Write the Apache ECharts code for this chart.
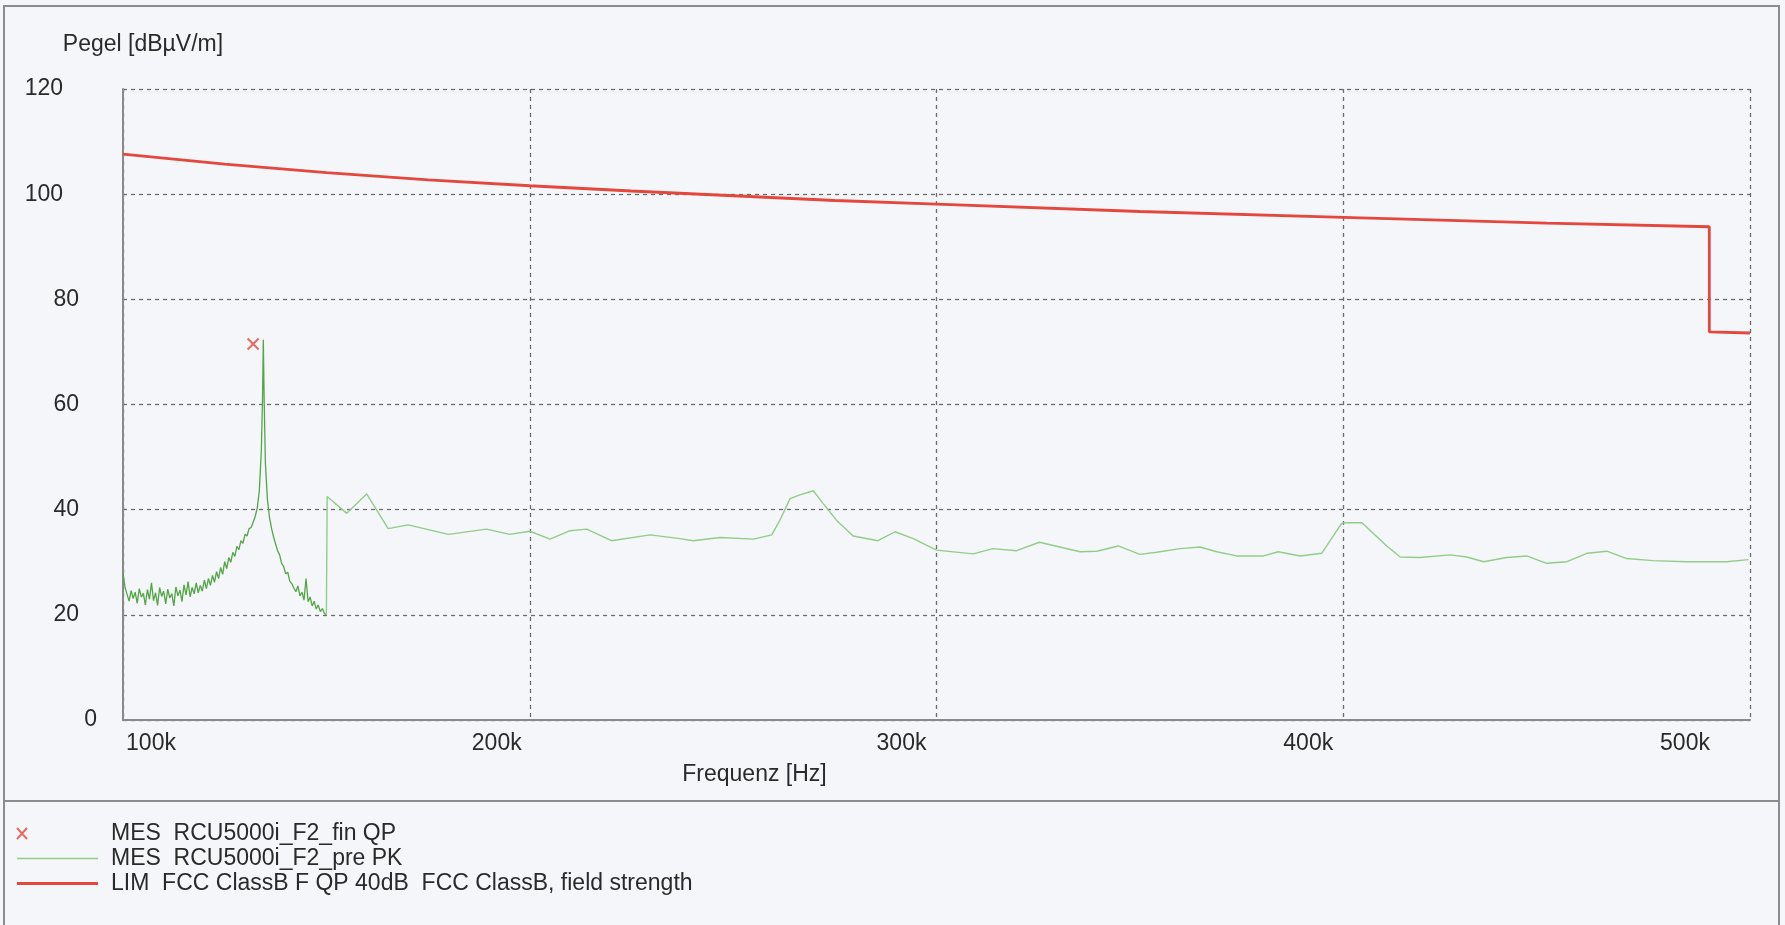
<!DOCTYPE html>
<html><head><meta charset="utf-8">
<script src="https://cdn.jsdelivr.net/npm/echarts@6/dist/echarts.min.js"></script>
<style>html,body{margin:0;padding:0;background:#f4f6fa}#c{width:1785px;height:925px}</style>
</head><body><div id="c"></div>
<script>
// ---- data (frequency in kHz, level in dBµV/m) ----
const xTickValues = [100, 200, 300, 400, 500];
const xTickLabels = ['100k', '200k', '300k', '400k', '500k'];

const seriesNames = ['MES  RCU5000i_F2_fin QP', 'MES  RCU5000i_F2_pre PK', 'LIM  FCC ClassB F QP 40dB  FCC ClassB, field strength'];

const finFreq = [132.0];
const finLevel = [71.5];

const preFreqA = [100.0,100.5,101.0,101.5,102.0,102.5,103.0,103.5,104.0,104.5,105.0,105.5,106.0,106.5,107.0,107.5,108.0,108.5,109.0,109.5,
  110.0,110.5,111.0,111.5,112.0,112.5,113.0,113.5,114.0,114.5,115.0,115.5,116.0,116.5,117.0,117.5,118.0,118.5,119.0,119.5,
  120.0,120.5,121.0,121.5,122.0,122.5,123.0,123.5,124.0,124.5,125.0,125.5,126.0,126.5,127.0,127.5,128.0,128.5,129.0,129.5,
  130.0,130.5,131.0,131.5,132.0,132.5,133.0,133.5,134.0,134.3,134.5,134.7,135.0,135.5,136.0,136.5,137.0,137.5,138.0,138.5,
  139.0,139.5,140.0,140.5,141.0,141.5,142.0,142.5,143.0,143.5,144.0,144.5,145.0,145.5,146.0,146.5,147.0,147.5,148.0,148.5,
  149.0,149.5,150.0];
const preLevelA = [28.0,25.2,23.9,22.6,24.6,23.1,24.3,22.2,25.0,23.4,24.1,21.9,24.8,23.0,26.1,22.7,24.2,21.8,25.2,23.5,
  24.5,22.1,24.9,23.2,24.0,21.7,25.3,23.6,24.7,22.5,25.7,23.8,26.3,23.4,25.2,24.0,26.1,24.2,25.6,24.5,
  26.6,25.0,26.9,25.6,27.5,26.2,28.2,26.9,29.0,27.7,30.1,28.8,30.9,30.0,31.9,31.1,33.0,32.4,34.1,33.6,
  35.3,35.0,36.4,36.6,37.6,38.7,40.3,43.5,51.0,61.0,72.3,61.0,49.0,42.0,38.6,36.5,34.9,33.5,32.2,31.4,
  29.8,29.2,27.8,28.1,26.4,25.9,25.1,24.4,25.5,23.6,24.3,22.8,26.9,22.5,23.4,21.7,22.6,21.1,21.9,20.6,
  21.2,20.3,19.9];

const preFreqB = [150.0,150.2,155.0,159.9,165.2,170.1,180.0,189.4,195.1,200.0,205.0,209.9,214.0,220.1,229.6,236.9,240.2,246.8,255.0,259.5,
  261.5,264.0,266.4,269.7,272.1,275.4,279.5,285.6,289.8,294.3,300.0,309.0,313.9,319.7,325.3,335.3,339.4,344.7,350.0,354.1,
  359.9,364.8,368.9,373.8,380.4,384.0,389.4,394.7,399.6,400.5,404.6,410.7,414.0,418.9,426.3,430.4,434.5,440.2,445.1,450.0,
  455.0,459.9,464.8,469.7,476.2,484.4,494.3,499.6];
const preLevelB = [20.0,42.5,39.3,43.0,36.4,37.1,35.3,36.3,35.3,35.9,34.4,36.0,36.3,34.1,35.2,34.5,34.1,34.7,34.4,35.2,
  38.0,42.1,42.8,43.6,41.2,38.0,35.0,34.1,35.8,34.5,32.3,31.6,32.6,32.2,33.8,32.0,32.1,33.1,31.5,31.9,
  32.6,32.9,32.0,31.2,31.2,32.0,31.2,31.7,37.4,37.5,37.5,33.1,31.0,30.9,31.4,31.0,30.1,30.9,31.2,29.8,
  30.1,31.7,32.1,30.7,30.3,30.1,30.1,30.5];

const limFreq = [100, 125, 150, 175, 200, 225, 250, 275, 300, 350, 400, 450, 490, 490, 500];
const limLevel = [107.6, 105.7, 104.1, 102.7, 101.6, 100.6, 99.7, 98.8, 98.1, 96.7, 95.6, 94.5, 93.8, 73.8, 73.6];

// ---- chart ----
const FONT = '"Liberation Sans", Arial, sans-serif';
const TXT = '#2a2a2a';
const RED = '#e4473d';
const GREEN_A = '#53a646';
const GREEN_B = '#93cc88';
const pairs = (xs, ys) => xs.map((x, i) => [x, ys[i]]);

const xRich = {};
const xPads = [[0,0,0,56],[0,66,0,0],[0,70,0,0],[0,70,0,0],[0,130,0,0]];
xPads.forEach((p, i) => { xRich['s' + i] = {padding: p, fontSize: 23, fontFamily: FONT, color: TXT}; });

const chart = echarts.init(document.getElementById('c'), null, {renderer: 'canvas'});
chart.setOption({
  animation: false,
  backgroundColor: '#f4f6fa',
  grid: {left: 123, right: 35, top: 89, bottom: 205, outerBoundsMode: 'none'},
  graphic: [
    {type: 'rect', shape: {x: 4, y: 6, width: 1775, height: 940}, style: {fill: 'none', stroke: '#8c8c8c', lineWidth: 2}, silent: true},
    {type: 'line', shape: {x1: 4, y1: 801, x2: 1779, y2: 801}, style: {stroke: '#8c8c8c', lineWidth: 2}, silent: true}
  ],
  xAxis: {
    type: 'value', min: 100, max: 500, interval: 100,
    name: 'Frequenz [Hz]', nameLocation: 'middle', nameGap: 43,
    nameTextStyle: {fontSize: 23, fontFamily: FONT, color: TXT, padding: [0, 364, 0, 0]},
    axisLine: {show: true, lineStyle: {color: '#8a8a8a', width: 2}},
    axisTick: {show: false},
    axisLabel: {
      margin: 12, fontSize: 23, fontFamily: FONT, color: TXT,
      formatter: v => { const i = xTickValues.indexOf(v); return i < 0 ? '' : '{s' + i + '|' + xTickLabels[i] + '}'; },
      rich: xRich
    },
    splitLine: {show: true, lineStyle: {color: '#6e6e6e', width: 1.3, type: [4, 4]}}
  },
  yAxis: {
    type: 'value', min: 0, max: 120, interval: 20,
    name: 'Pegel [dBµV/m]', nameLocation: 'end', nameGap: 33,
    nameTextStyle: {fontSize: 23, fontFamily: FONT, color: TXT, align: 'center', padding: [0, 0, 0, 40]},
    axisLine: {show: true, lineStyle: {color: '#8a8a8a', width: 2}},
    axisTick: {show: false},
    axisLabel: {
      margin: 26, fontSize: 23, fontFamily: FONT, color: TXT, align: 'right',
      formatter: v => v >= 100 ? '{t|' + v + '}' : (v >= 10 ? '{d|' + v + '}' : '{o|' + v + '}'),
      rich: {
        t: {padding: [0, 34, 0, 0], fontSize: 23, fontFamily: FONT, color: TXT},
        d: {padding: [0, 18, 0, 0], fontSize: 23, fontFamily: FONT, color: TXT},
        o: {padding: [0, 0, 0, 0], fontSize: 23, fontFamily: FONT, color: TXT}
      }
    },
    splitLine: {show: true, lineStyle: {color: '#6e6e6e', width: 1.3, type: [4, 4]}}
  },
  legend: {
    orient: 'vertical', left: 11, top: 816,
    itemWidth: 81, itemHeight: 14, itemGap: 0, selectedMode: false,
    textStyle: {fontSize: 23, fontFamily: FONT, color: TXT, lineHeight: 25, padding: [0, 0, 0, 8]},
    data: [
      {name: seriesNames[0], icon: 'path://M0,1.5L10,12.5M10,1.5L0,12.5M0,0M81,14',
       itemStyle: {color: RED, borderColor: RED, borderWidth: 2}},
      {name: seriesNames[1], icon: 'path://M0,0M81,14M0,6.3h81v1.4h-81z',
       itemStyle: {color: GREEN_B, borderWidth: 0}},
      {name: seriesNames[2], icon: 'path://M0,0M81,14M0,5.5h81v3h-81z',
       itemStyle: {color: RED, borderWidth: 0}}
    ]
  },
  series: [
    {
      name: seriesNames[1], type: 'line', data: pairs(preFreqA, preLevelA),
      showSymbol: false, symbol: 'none', z: 3,
      lineStyle: {color: GREEN_A, width: 1.3}, itemStyle: {color: GREEN_B}
    },
    {
      name: seriesNames[1], type: 'line', data: pairs(preFreqB, preLevelB),
      showSymbol: false, symbol: 'none', z: 3,
      lineStyle: {color: GREEN_B, width: 1.4}, itemStyle: {color: GREEN_B}
    },
    {
      name: seriesNames[2], type: 'line', data: pairs(limFreq, limLevel),
      showSymbol: false, symbol: 'none', z: 4,
      lineStyle: {color: RED, width: 2.8}, itemStyle: {color: RED}
    },
    {
      name: seriesNames[0], type: 'scatter', data: pairs(finFreq, finLevel),
      symbol: 'path://M0,0L10,10M10,0L0,10', symbolSize: 11, z: 5,
      itemStyle: {color: RED, borderColor: RED, borderWidth: 2}
    }
  ]
});
</script>
</body></html>
